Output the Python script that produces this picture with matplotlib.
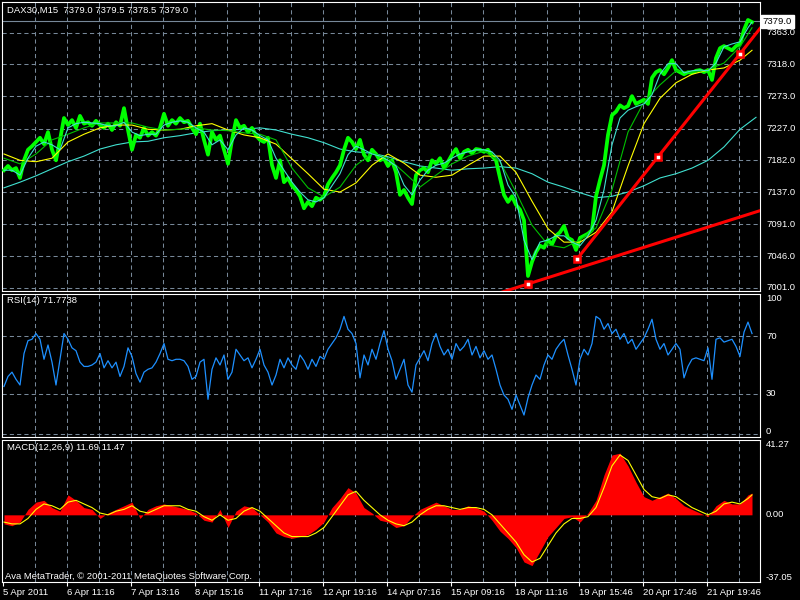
import numpy as np
import matplotlib
matplotlib.use("Agg")
import matplotlib.pyplot as plt

plt.rcParams['font.family'] = ['Liberation Sans', 'DejaVu Sans']

# ---- data (x is bar position on the chart, price in points) ----
price = [7168, 7174, 7168, 7171, 7157, 7182, 7197, 7202, 7208, 7214, 7205, 7222, 7197, 7182, 7211, 7242,
         7232, 7239, 7228, 7245, 7234, 7236, 7231, 7238, 7232, 7228, 7234, 7225, 7236, 7231, 7256, 7225,
         7197, 7218, 7214, 7228, 7217, 7222, 7217, 7228, 7248, 7231, 7239, 7234, 7242, 7236, 7238, 7228,
         7219, 7234, 7211, 7190, 7222, 7211, 7217, 7197, 7177, 7211, 7239, 7228, 7231, 7222, 7228, 7217,
         7211, 7208, 7214, 7175, 7157, 7182, 7151, 7157, 7146, 7140, 7131, 7114, 7123, 7117, 7129, 7126,
         7131, 7148, 7157, 7165, 7175, 7197, 7214, 7208, 7198, 7211, 7190, 7182, 7197, 7191, 7182, 7185,
         7174, 7182, 7165, 7133, 7140, 7129, 7120, 7161, 7168, 7171, 7165, 7182, 7177, 7185, 7171, 7180,
         7190, 7198, 7185, 7194, 7197, 7192, 7198, 7197, 7194, 7197, 7188, 7182, 7157, 7133, 7123, 7131,
         7119, 7112, 7097, 7018, 7038, 7052, 7061, 7058, 7069, 7063, 7075, 7080, 7089, 7072, 7069, 7055,
         7072, 7075, 7078, 7083, 7131, 7154, 7175, 7218, 7246, 7251, 7260, 7256, 7259, 7273, 7262, 7265,
         7268, 7262, 7299, 7307, 7310, 7304, 7313, 7324, 7310, 7307, 7304, 7307, 7306, 7309, 7310, 7307,
         7310, 7296, 7327, 7341, 7344, 7341, 7338, 7344, 7347, 7367, 7381, 7378]
ma_fast = [7168, 7168, 7161, 7185, 7202, 7208, 7204, 7197, 7228, 7234, 7236, 7235, 7234, 7231, 7231, 7236,
           7222, 7217, 7219, 7219, 7232, 7236, 7238, 7236, 7228, 7222, 7204, 7211, 7197, 7218, 7228, 7225,
           7217, 7211, 7185, 7168, 7151, 7137, 7126, 7123, 7129, 7146, 7163, 7190, 7202, 7197, 7191, 7188,
           7182, 7174, 7147, 7133, 7154, 7168, 7175, 7178, 7185, 7191, 7194, 7197, 7197, 7194, 7182, 7147,
           7129, 7069, 7041, 7066, 7069, 7075, 7075, 7066, 7061, 7075, 7097, 7140, 7204, 7242, 7253, 7258,
           7262, 7275, 7304, 7319, 7319, 7306, 7309, 7310, 7309, 7320, 7343, 7347, 7350, 7370, 7378]
ma_mid = [7185, 7177, 7191, 7211, 7219, 7228, 7235, 7235, 7235, 7229, 7225, 7226, 7228, 7225, 7224, 7221,
          7219, 7211, 7171, 7143, 7130, 7144, 7175, 7192, 7185, 7165, 7144, 7161, 7177, 7188, 7195, 7180,
          7137, 7090, 7062, 7058, 7069, 7086, 7140, 7222, 7265, 7289, 7309, 7307, 7310, 7320, 7343, 7370]
ma_slow = [7191, 7182, 7180, 7185, 7208, 7219, 7228, 7232, 7232, 7226, 7225, 7226, 7231, 7234, 7225, 7218,
           7214, 7205, 7184, 7163, 7141, 7137, 7150, 7175, 7191, 7178, 7161, 7158, 7161, 7175, 7188, 7188,
           7165, 7124, 7085, 7066, 7066, 7080, 7109, 7174, 7234, 7270, 7292, 7304, 7310, 7313, 7324, 7338]
ma_long = [7143, 7151, 7160, 7170, 7180, 7188, 7198, 7204, 7208, 7209, 7214, 7217, 7221, 7224, 7225, 7226,
           7228, 7225, 7219, 7214, 7207, 7198, 7194, 7192, 7187, 7180, 7174, 7171, 7168, 7170, 7171, 7173,
           7171, 7163, 7151, 7144, 7136, 7129, 7131, 7137, 7146, 7157, 7163, 7171, 7182, 7201, 7226, 7243]

trend_low_x = [526, 758]
trend_low_y = [7006.7, 7110.6]
trend_up_x = [575, 656, 738, 758]
trend_up_y = [7042, 7187, 7333, 7369]
anchor_x = [526, 575, 656, 738]
anchor_y = [7006.7, 7042, 7187, 7333]

rsi = [35, 42, 45, 40, 36, 58, 67, 68, 72, 68, 54, 64, 52, 36, 54, 72, 68, 62, 60, 52, 49, 49, 50, 52,
       58, 48, 53, 48, 52, 42, 49, 62, 56, 44, 38, 45, 47, 48, 52, 58, 65, 54, 53, 54, 54, 53, 49, 40,
       42, 52, 54, 26, 47, 55, 50, 57, 40, 45, 61, 57, 53, 55, 48, 54, 61, 50, 45, 36, 43, 54, 48, 55,
       50, 47, 57, 53, 47, 54, 49, 56, 54, 61, 65, 69, 75, 84, 75, 72, 65, 41, 57, 50, 61, 54, 65, 74,
       61, 53, 40, 47, 54, 36, 31, 50, 55, 60, 53, 65, 72, 63, 57, 61, 54, 65, 60, 63, 68, 57, 63, 55,
       60, 54, 57, 47, 36, 29, 26, 19, 29, 22, 15, 27, 36, 43, 40, 50, 57, 54, 61, 65, 68, 57, 47, 36,
       54, 61, 57, 65, 84, 82, 75, 79, 72, 75, 68, 72, 65, 68, 61, 65, 69, 75, 82, 68, 61, 65, 57, 61,
       65, 61, 41, 49, 54, 55, 54, 53, 62, 40, 68, 69, 66, 67, 68, 63, 56, 73, 80, 72]

macd = [-5, -6, -4, 3, 7, 8, 4, 2, 11, 8, 4, 3, -2, 1, 3, 5, 7, -2, 3, 5, 6, 5, 4, 3, 1, -3, -4, 3,
        -7, 2, 5, 4, 0, -4, -10, -12, -13, -12, -11, -8, -4, 4, 9, 15, 12, 4, 1, -3, -4, -7, -6, -1,
        3, 5, 7, 5, 3, 3, 5, 4, 2, -3, -9, -13, -18, -26, -28, -20, -12, -7, -2, -1, -4, 1, 8, 22, 33,
        34, 27, 18, 10, 8, 10, 12, 9, 5, 3, 1, -1, 5, 8, 6, 6, 11, 12]
signal = [-4, -5, -5, -2, 3, 6, 5, 3, 7, 8, 6, 4, 1, 0, 2, 3, 5, 2, 1, 3, 5, 5, 5, 3, 2, -1, -3, 0,
          -3, -2, 2, 4, 2, -2, -6, -10, -12, -12, -12, -10, -7, -1, 5, 11, 13, 8, 4, 0, -3, -5, -6, -4,
          0, 3, 5, 5, 4, 3, 4, 4, 3, 0, -5, -10, -15, -22, -26, -24, -17, -10, -5, -2, -2, -1, 4, 15, 27,
          33, 30, 22, 14, 10, 9, 11, 10, 7, 4, 2, 0, 2, 6, 7, 6, 9, 11]

price_ticks = [7001.0, 7046.0, 7091.0, 7137.0, 7182.0, 7227.0, 7273.0, 7318.0, 7363.0]
time_labels = ["5 Apr 2011", "6 Apr 11:16", "7 Apr 13:16", "8 Apr 15:16", "11 Apr 17:16",
               "12 Apr 19:16", "14 Apr 07:16", "15 Apr 09:16", "18 Apr 11:16", "19 Apr 15:46",
               "20 Apr 17:46", "21 Apr 19:46"]
bid = 7379.0

x_price = np.arange(len(price)) * 4 + 2
x_fast = np.arange(len(ma_fast)) * 8 + 2
x_fast[-1] = 750
x_mid = np.arange(len(ma_mid)) * 16 + 2
x_mid[-1] = 750
x_long = np.arange(len(ma_long)) * 16 + 2
x_rsi = np.arange(len(rsi)) * 4 + 2
x_macd = np.arange(len(macd)) * 8 + 2
x_macd[-1] = 750

GRID = '#778899'
FS = 6.8

fig = plt.figure(figsize=(8, 6), dpi=100, facecolor='black')
ax = fig.add_axes([2 / 800, 1 - 291 / 600, 758 / 800, 289 / 600])
ax_rsi = fig.add_axes([2 / 800, 1 - 436.5 / 600, 758 / 800, 143 / 600])
ax_macd = fig.add_axes([2 / 800, 1 - 582 / 600, 758 / 800, 142 / 600])

for a in (ax, ax_rsi, ax_macd):
    a.set_facecolor('black')
    a.set_xlim(0, 758)
    for s in a.spines.values():
        s.set_color('white')
        s.set_linewidth(0.8)
    a.tick_params(left=False, right=False, labelleft=False, bottom=False, labelbottom=False)
    for gx in range(33, 740, 32):
        a.axvline(gx, color=GRID, lw=0.75, ls=(0, (4, 3)), zorder=0)

# ---- main price panel ----
ax.set_ylim(6996.7, 7406.5)
for p in price_ticks:
    ax.axhline(p, color=GRID, lw=0.75, ls=(0, (4, 3)), zorder=0)
    ax.text(1.008, p, f"{p:.1f}", transform=ax.get_yaxis_transform(), color='white',
            fontsize=FS, va='center', ha='left')
ax.axhline(bid, color=GRID, lw=0.8, zorder=1)
ax.text(1.0035, bid, f"{bid:.1f}", transform=ax.get_yaxis_transform(), color='black',
        fontsize=FS, va='center', ha='left',
        bbox=dict(boxstyle='square,pad=0.2', fc='white', ec='white'))

ax.plot(x_price, price, color='#00ff00', lw=2.7, zorder=3)
ax.plot(x_long, ma_long, color='#40e0d0', lw=0.8, zorder=2)
ax.plot(x_mid, ma_slow, color='#ffff00', lw=0.8, zorder=4)
ax.plot(x_mid, ma_mid, color='#00c000', lw=0.8, zorder=4)
ax.plot(x_fast, ma_fast, color='#40e0d0', lw=0.8, zorder=4)

# lower trend line runs on past its anchor and is clipped by the panel
slope = (trend_low_y[1] - trend_low_y[0]) / (trend_low_x[1] - trend_low_x[0])
ax.plot([trend_low_x[0] - 40, trend_low_x[1]], [trend_low_y[0] - 40 * slope, trend_low_y[1]],
        color='red', lw=2.2, zorder=5)
ax.plot(trend_up_x, trend_up_y, color='red', lw=2.2, zorder=5)
ax.plot(anchor_x, anchor_y, ls='none', marker='s', ms=5, mfc='white', mec='red', mew=1.8, zorder=6)
ax.text(0.006, 0.972, "DAX30,M15  7379.0 7379.5 7378.5 7379.0", transform=ax.transAxes,
        color='white', fontsize=FS, va='center', ha='left')

# ---- RSI panel ----
ax_rsi.set_ylim(0, 100)
for lv in (70, 30):
    ax_rsi.axhline(lv, color=GRID, lw=0.75, ls=(0, (4, 3)), zorder=0)
ax_rsi.axhline(2, color=GRID, lw=0.75, ls=(0, (4, 3)), zorder=0)
ax_rsi.plot(x_rsi, rsi, color='#1e90ff', lw=0.9)
tr = ax_rsi.get_yaxis_transform()
ax_rsi.text(1.008, 100, "100", transform=tr, color='white', fontsize=FS, va='top')
ax_rsi.text(1.008, 70, "70", transform=tr, color='white', fontsize=FS, va='center')
ax_rsi.text(1.008, 30, "30", transform=tr, color='white', fontsize=FS, va='center')
ax_rsi.text(1.008, 0, "0", transform=tr, color='white', fontsize=FS, va='bottom')
ax_rsi.text(0.006, 0.95, "RSI(14) 71.7738", transform=ax_rsi.transAxes, color='white',
            fontsize=FS, va='center')

# ---- MACD panel ----
ax_macd.set_ylim(-37.05, 41.27)
ax_macd.fill_between(x_macd, 0, macd, color='red', lw=0, zorder=2)
ax_macd.plot(x_macd, signal, color='#ffff00', lw=0.8, zorder=3)
tr = ax_macd.get_yaxis_transform()
ax_macd.text(1.008, 41.27, "41.27", transform=tr, color='white', fontsize=FS, va='top')
ax_macd.text(1.008, 0, "0.00", transform=tr, color='white', fontsize=FS, va='center')
ax_macd.text(1.008, -37.05, "-37.05", transform=tr, color='white', fontsize=FS, va='bottom')
ax_macd.text(0.006, 0.95, "MACD(12,26,9) 11.69 11.47", transform=ax_macd.transAxes,
             color='white', fontsize=FS, va='center')
ax_macd.text(0.004, 0.042, "Ava MetaTrader, \u00a9 2001-2011 MetaQuotes Software Corp.",
             transform=ax_macd.transAxes, color='white', fontsize=FS, va='center')

ax_macd.set_xticks([1 + 64 * k for k in range(len(time_labels))], time_labels)
ax_macd.tick_params(bottom=True, labelbottom=True, colors='white', length=3, width=0.8,
                    pad=1.0, labelsize=FS)
for lbl in ax_macd.get_xticklabels():
    lbl.set_horizontalalignment('left')

fig.savefig("out.png", dpi=100, facecolor='black')
